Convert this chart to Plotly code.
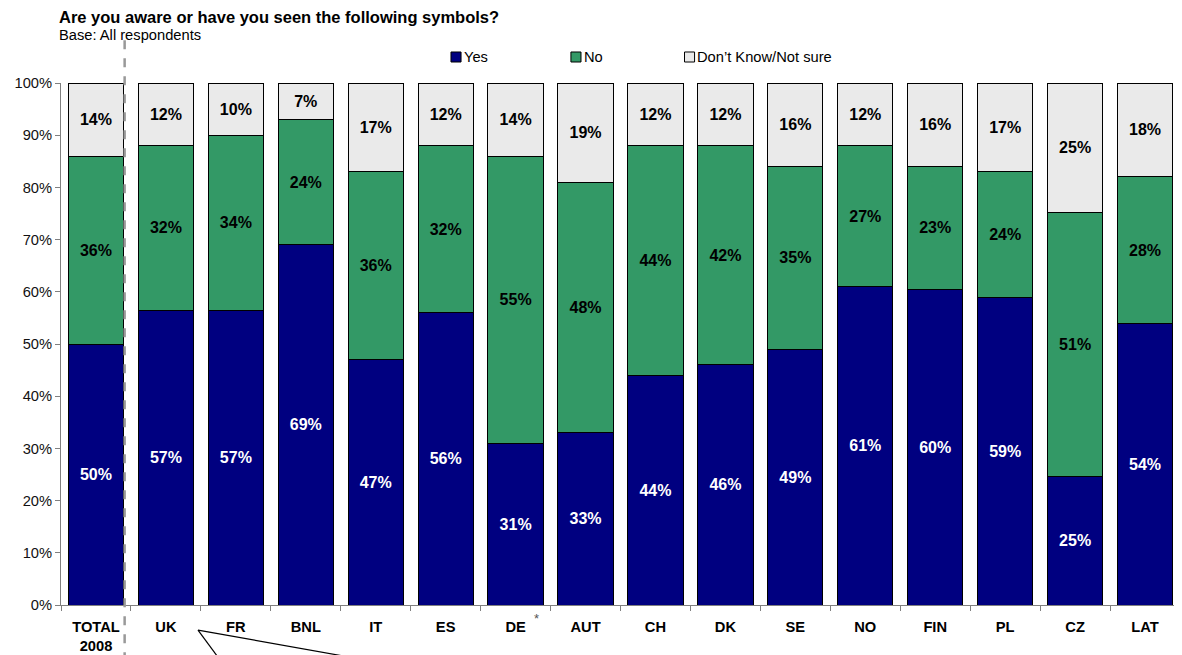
import plotly.graph_objects as go

categories = ["TOTAL<br>2008", "UK", "FR", "BNL", "IT", "ES", "DE", "AUT", "CH", "DK", "SE", "NO", "FIN", "PL", "CZ", "LAT"]
yes_vals = [50, 56.5, 56.5, 69, 47, 56, 31, 33, 44, 46, 49, 61, 60.5, 59, 24.7, 54]
no_vals = [36, 31.5, 33.5, 24, 36, 32, 55, 48, 44, 42, 35, 27, 23.5, 24, 50.5, 28]
dk_vals = [14, 12, 10, 7, 17, 12, 14, 19, 12, 12, 16, 12, 16, 17, 24.8, 18]
yes_labels = [50, 57, 57, 69, 47, 56, 31, 33, 44, 46, 49, 61, 60, 59, 25, 54]
no_labels = [36, 32, 34, 24, 36, 32, 55, 48, 44, 42, 35, 27, 23, 24, 51, 28]
dk_labels = [14, 12, 10, 7, 17, 12, 14, 19, 12, 12, 16, 12, 16, 17, 25, 18]
y_ticks = [0, 10, 20, 30, 40, 50, 60, 70, 80, 90, 100]

FONT = "Arial, Liberation Sans, sans-serif"
BASE = 14.7
series = [
    ("Yes", yes_vals, yes_labels, "#000080", "white"),
    ("No", no_vals, no_labels, "#339966", "black"),
    ("Don\u2019t Know/Not sure", dk_vals, dk_labels, "#EAEAEA", "black"),
]

fig = go.Figure()
for name, vals, labs, color, tcol in series:
    fig.add_trace(go.Bar(
        name=name, x=categories, y=vals,
        text=[f"{v}%" for v in labs],
        textposition="inside", insidetextanchor="middle", textangle=0,
        textfont=dict(family=FONT, size=16, color=tcol, weight="bold"),
        marker=dict(color=color, line=dict(color="black", width=1)),
        showlegend=False, hoverinfo="skip",
    ))

# page body has an 8px margin, so the figure is sized/offset to compensate
fig.update_layout(
    barmode="stack", bargap=0.21,
    width=1174, height=647,
    margin=dict(l=53, r=2, t=75, b=50),
    plot_bgcolor="white", paper_bgcolor="white",
    font=dict(family=FONT, size=BASE, color="black"),
)
fig.update_yaxes(
    range=[0, 100], tickvals=y_ticks, ticktext=[f"{v}%" for v in y_ticks],
    ticks="outside", ticklen=5, tickcolor="#808080", showline=True, linecolor="#808080",
    showgrid=False, zeroline=False, tickfont=dict(size=BASE, color="#111"),
    automargin=False,
)
fig.update_xaxes(
    tickson="boundaries", ticks="outside", ticklen=5, tickcolor="#808080",
    showline=True, linecolor="#808080", showgrid=False,
    tickfont=dict(size=BASE, weight="bold"), automargin=False,
    ticklabelstandoff=8,
)

# Title and subtitle
fig.add_annotation(text="<b>Are you aware or have you seen the following symbols?</b>",
                   xref="paper", yref="paper", x=-0.0036, y=1.126, xanchor="left", yanchor="middle",
                   showarrow=False, font=dict(size=16.5))
fig.add_annotation(text="Base: All respondents",
                   xref="paper", yref="paper", x=-0.0036, y=1.091, xanchor="left", yanchor="middle",
                   showarrow=False, font=dict(size=BASE))

# Manual legend
legend_pos = [0.353, 0.4602, 0.5617]
for (name, _, _, color, _), lx in zip(series, legend_pos):
    fig.add_shape(type="rect", xref="paper", yref="paper",
                  x0=lx - 0.0045, x1=lx + 0.0045, y0=1.0498 - 0.0096, y1=1.0498 + 0.0096,
                  fillcolor=color, line=dict(color="black", width=1))
    fig.add_annotation(text=name, xref="paper", yref="paper", x=lx + 0.0052, y=1.0498,
                       xanchor="left", yanchor="middle", showarrow=False, font=dict(size=BASE))

# Dashed separator after TOTAL
fig.add_shape(type="line", xref="x", yref="paper", x0=0.41, x1=0.41, y0=1.082, y1=-0.12,
              line=dict(color="#999999", width=2.5, dash="dash"))

# Callout lines from UK label
for xe in [1.745, 3.632]:
    fig.add_shape(type="line", xref="x", yref="paper", x0=1.459, y0=-0.048, x1=xe, y1=-0.1,
                  line=dict(color="black", width=1.2))

# Asterisk near DE
fig.add_annotation(text="*", xref="x", yref="paper", x=6.306, y=-0.044, showarrow=False,
                   font=dict(size=13, color="#555"))

fig.write_html("out.html")
